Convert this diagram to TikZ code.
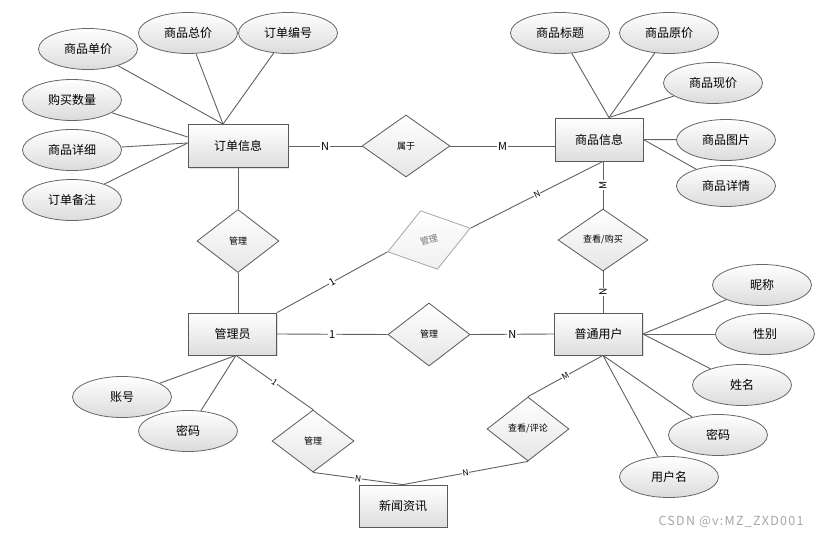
\documentclass[tikz,border=0pt]{standalone}
\usepackage{fontspec}
\setmainfont{Noto Sans CJK SC}
\usetikzlibrary{calc}
\usetikzlibrary{shapes.geometric}
\usetikzlibrary{shadows}

\tikzset{
  entity/.style={rectangle, draw=black!65, line width=0.8pt, top color=white, bottom color=black!13,
    minimum width=88pt, minimum height=42pt, inner sep=0pt, font=\fontsize{12}{14}\selectfont,
    drop shadow={shadow xshift=1.2pt, shadow yshift=-1.2pt, opacity=0.25}},
  attrib/.style={ellipse, draw=black!60, line width=0.8pt, top color=white, bottom color=black!14,
    minimum width=99pt, minimum height=41pt, inner sep=0pt, font=\fontsize{12}{14}\selectfont},
  relation/.style={diamond, draw=black!65, line width=0.8pt, top color=white, bottom color=black!10,
    minimum width=82pt, minimum height=62pt, inner sep=0pt, font=\fontsize{9}{11}\selectfont},
  link/.style={draw=black!62, line width=0.9pt},
  card/.style={fill=white, inner sep=0.8pt, font=\fontsize{11}{12}\selectfont},
  smallcard/.style={fill=white, inner sep=0.5pt, font=\fontsize{8.5}{10}\selectfont, sloped},
}

\begin{document}
\begin{tikzpicture}[x=1pt,y=-1pt]
  % canvas of the reference
  \useasboundingbox (0,0) rectangle (820,538);

  % entities
  \node[entity, minimum width=100pt, minimum height=43pt] (order) at (238,146) {订单信息};
  \node[entity, minimum height=43pt] (goods) at (599,139.5) {商品信息};
  \node[entity] (admin) at (232.5,334) {管理员};
  \node[entity] (user) at (598.5,334) {普通用户};
  \node[entity] (news) at (403,506) {新闻资讯};

  % relations
  \node[relation, minimum width=88pt] (r-belong) at (406,146) {属于};
  \node[relation, minimum height=63pt] (r-mgr1) at (238,241) {管理};
  \node[relation, minimum width=86pt, minimum height=61pt, rotate=16, draw=black!35,
    bottom color=black!6, text=black!55] (r-mgr2) at (429,240) {管理};
  \node[relation, minimum width=90pt] (r-buy) at (603,240) {查看/购买};
  \node[relation, minimum height=63pt] (r-mgr3) at (429,334.5) {管理};
  \node[relation] (r-mgr4) at (313,441) {管理};
  \node[relation, minimum height=64pt] (r-view) at (528,429) {查看/评论};

  % meeting points of the lines
  \coordinate (order-top) at ($(order.north)+(-15,0)$);
  \coordinate (order-l1) at ($(order.west)+(0,-9)$);
  \coordinate (order-l2) at ($(order.west)+(0,-3)$);
  \coordinate (goods-top) at ($(goods.north)+(10,0)$);
  \coordinate (goods-bot) at ($(goods.south)+(4,0)$);
  \coordinate (admin-bot) at ($(admin.south)+(3.5,0)$);
  \coordinate (user-bot) at ($(user.south)+(4.5,0)$);

  % attributes of the order
  \node[attrib] (a-price) at (88,49) {商品单价};
  \node[attrib] (a-total) at (188,33) {商品总价};
  \node[attrib] (a-no) at (288,33) {订单编号};
  \node[attrib] (a-qty) at (72,100) {购买数量};
  \node[attrib] (a-detail) at (72,150) {商品详细};
  \node[attrib] (a-note) at (72,200) {订单备注};
  \draw[link] (order-top) -- (a-price);
  \draw[link] (order-top) -- (a-total);
  \draw[link] (order-top) -- (a-no);
  \draw[link] (order-l1) -- (a-qty);
  \draw[link] (order-l2) -- (a-detail);
  \draw[link] (order-l2) -- (a-note);

  % attributes of the goods
  \node[attrib] (g-title) at (560,33) {商品标题};
  \node[attrib] (g-orig) at (669,33) {商品原价};
  \node[attrib] (g-now) at (713,83) {商品现价};
  \node[attrib] (g-pic) at (726,140) {商品图片};
  \node[attrib] (g-info) at (726,186) {商品详情};
  \draw[link] (goods-top) -- (g-title);
  \draw[link] (goods-top) -- (g-orig);
  \draw[link] (goods-top) -- (g-now);
  \draw[link] (goods.east) -- (g-pic);
  \draw[link] (goods.east) -- (g-info);

  % attributes of the admin
  \node[attrib] (m-acc) at (122,397) {账号};
  \node[attrib] (m-pwd) at (188,431) {密码};
  \draw[link] (admin-bot) -- (m-acc);
  \draw[link] (admin-bot) -- (m-pwd);

  % attributes of the user
  \node[attrib] (u-nick) at (762,285) {昵称};
  \node[attrib] (u-sex) at (765,334) {性别};
  \node[attrib] (u-name) at (742,385) {姓名};
  \node[attrib] (u-pwd) at (718,435) {密码};
  \node[attrib] (u-login) at (669,477) {用户名};
  \draw[link] (user.east) -- (u-nick);
  \draw[link] (user.east) -- (u-sex);
  \draw[link] (user.east) -- (u-name);
  \draw[link] (user-bot) -- (u-pwd);
  \draw[link] (user-bot) -- (u-login);

  % relation lines with their cardinalities
  \draw[link] (order) -- node[card] {N} (r-belong);
  \draw[link] (r-belong.east) -- node[card] {M} (r-belong.east -| goods.west);
  \draw[link] (order.south) -- (r-mgr1.north);
  \draw[link] (r-mgr1.south) -- (r-mgr1.south |- admin.north);
  \draw[link] (admin.north east) -- node[smallcard, font=\fontsize{10}{11}\selectfont] {1} (r-mgr2.west);
  \draw[link] (r-mgr2.east) -- node[smallcard] {N} (goods-bot);
  \draw[link] (goods-bot) -- node[card, rotate=90, font=\fontsize{10}{11}\selectfont] {M} (r-buy.north);
  \draw[link] (r-buy.south) -- node[card, rotate=90, font=\fontsize{10}{11}\selectfont] {N} (r-buy.south |- user.north);
  \draw[link] (admin.east) -- node[card] {1} (r-mgr3.west);
  \draw[link] (r-mgr3.east) -- node[card] {N} (user.west);
  \draw[link] (admin-bot) -- node[smallcard] {1} (r-mgr4.north);
  \draw[link] (r-mgr4.south) -- node[smallcard] {N} (news.north);
  \draw[link] (user-bot) -- node[smallcard] {M} (r-view.north);
  \draw[link] (r-view.south) -- node[smallcard] {N} (news.north);

  % watermark
  \node[text=black!35, font=\fontsize{12.5}{14}\selectfont\addfontfeature{LetterSpace=10}] (mark) at (731,522) {CSDN @v:MZ\_ZXD001};
\end{tikzpicture}
\end{document}
